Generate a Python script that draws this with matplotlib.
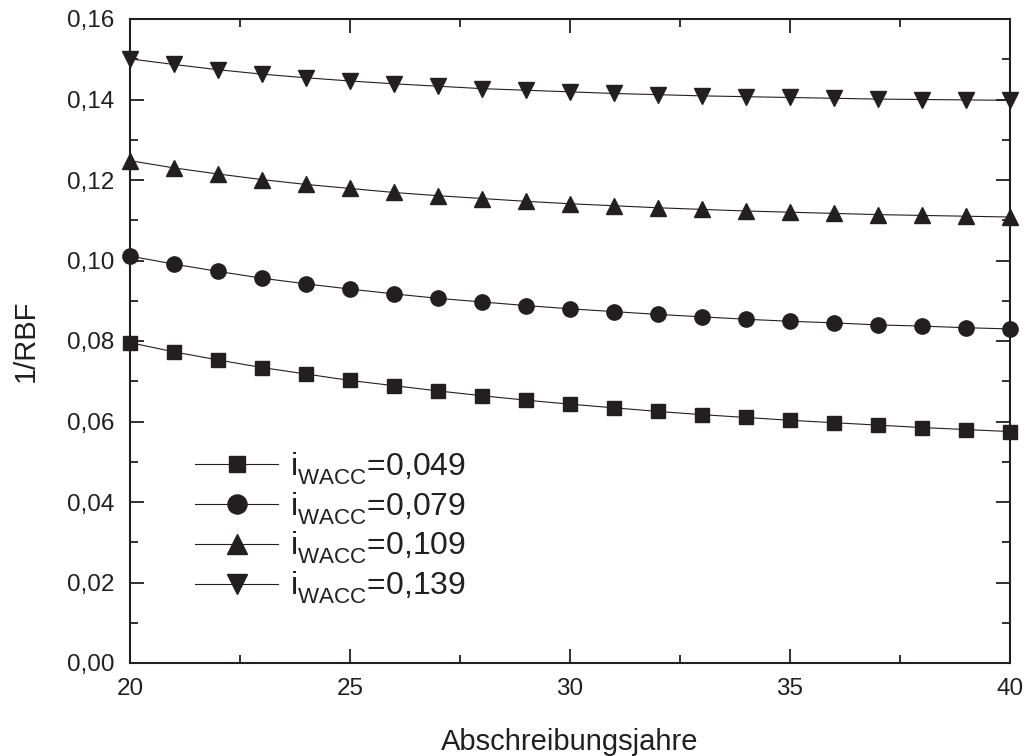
import matplotlib
matplotlib.use('Agg')
import matplotlib.pyplot as plt
import matplotlib._mathtext as mt
from matplotlib.ticker import MultipleLocator, FuncFormatter

plt.rcParams['font.family'] = ['Liberation Sans', 'DejaVu Sans']
plt.rcParams['mathtext.fontset'] = 'custom'
plt.rcParams['mathtext.rm'] = 'Liberation Sans'
plt.rcParams['mathtext.it'] = 'Liberation Sans'
# push the WACC subscript lower, like the original
mt.FontConstantsBase.sub1 = 0.55
mt.FontConstantsBase.sub2 = 0.7

# Abschreibungsjahre
years = list(range(20, 41))

# 1/RBF for each i_WACC
rbf_049 = [0.0796, 0.0773, 0.0753, 0.0734, 0.0718, 0.0702, 0.0689, 0.0676, 0.0664, 0.0653,
           0.0643, 0.0634, 0.0625, 0.0617, 0.0610, 0.0603, 0.0597, 0.0591, 0.0585, 0.0580, 0.0575]
rbf_079 = [0.1011, 0.0991, 0.0973, 0.0956, 0.0942, 0.0929, 0.0917, 0.0906, 0.0897, 0.0888,
           0.0880, 0.0873, 0.0866, 0.0860, 0.0854, 0.0849, 0.0845, 0.0840, 0.0837, 0.0833, 0.0830]
rbf_109 = [0.1248, 0.1230, 0.1215, 0.1201, 0.1189, 0.1179, 0.1169, 0.1161, 0.1154, 0.1147,
           0.1141, 0.1136, 0.1131, 0.1127, 0.1123, 0.1120, 0.1117, 0.1114, 0.1112, 0.1110, 0.1108]
rbf_139 = [0.1501, 0.1487, 0.1474, 0.1463, 0.1454, 0.1446, 0.1439, 0.1433, 0.1427, 0.1423,
           0.1419, 0.1415, 0.1412, 0.1409, 0.1407, 0.1405, 0.1403, 0.1401, 0.1400, 0.1399, 0.1398]

labels = ['0,049', '0,079', '0,109', '0,139']
series = [rbf_049, rbf_079, rbf_109, rbf_139]
markers = ['s', 'o', '^', 'v']
sizes = [9.5, 11, 12, 12]

ink = '#231f20'

fig = plt.figure(figsize=(10.26, 7.56), dpi=100)
ax = fig.add_axes([130 / 1026, 1 - 663 / 756, 880 / 1026, 644 / 756])

for vals, lab, m, ms in zip(series, labels, markers, sizes):
    ax.plot(years, vals, color=ink, lw=0.8, marker=m, markersize=ms,
            markerfacecolor=ink, markeredgecolor=ink, clip_on=False,
            label=r'i$_{\mathrm{WACC}}$=' + lab)

ax.set_xlim(20, 40)
ax.set_ylim(0, 0.16)
ax.xaxis.set_major_locator(MultipleLocator(5))
ax.xaxis.set_minor_locator(MultipleLocator(2.5))
ax.yaxis.set_major_locator(MultipleLocator(0.02))
ax.yaxis.set_minor_locator(MultipleLocator(0.01))
ax.yaxis.set_major_formatter(FuncFormatter(lambda v, p: f'{v:.2f}'.replace('.', ',')))

ax.tick_params(which='both', direction='in', top=True, right=True, width=1.3,
               colors=ink, labelsize=17.5)
ax.tick_params(which='major', length=10, pad=11)
ax.tick_params(which='minor', length=5.5)
for s in ax.spines.values():
    s.set_linewidth(1.5)
    s.set_color(ink)

ax.set_xlabel('Abschreibungsjahre', fontsize=21, color=ink, labelpad=20)
ax.set_ylabel('1/RBF', fontsize=21, color=ink, labelpad=20)

leg = ax.legend(loc='upper left', bbox_to_anchor=(0.056, 0.355), frameon=False,
                fontsize=23, handlelength=2.6, handletextpad=0.37,
                labelspacing=0.11, borderpad=0, markerscale=1.25)
for t in leg.get_texts():
    t.set_color(ink)

fig.savefig('out.png', dpi=100)
